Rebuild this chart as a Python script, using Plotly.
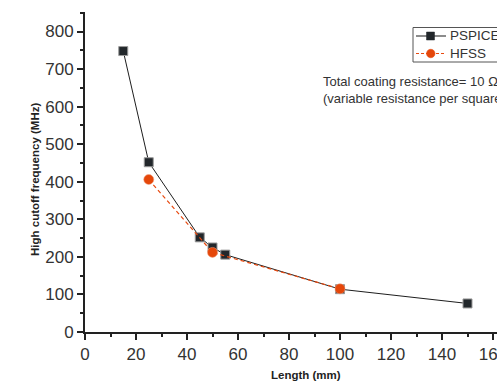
import plotly.graph_objects as go

# Data
pspice_len = [15, 25, 45, 50, 55, 100, 150]
pspice_freq = [748, 452, 252, 225, 206, 114, 76]
hfss_len = [25, 50, 100]
hfss_freq = [406, 212, 115]

x_ticks = [0, 20, 40, 60, 80, 100, 120, 140, 160]
y_ticks = [0, 100, 200, 300, 400, 500, 600, 700, 800]

W, H = 497, 382
ML, MR, MT, MB = 85, 0, 12, 50
pw = W - ML - MR
ph = H - MT - MB

FONT = "Liberation Sans, Arial, sans-serif"
AX = "#222222"
SQ_COLOR = "#22272b"
OR_COLOR = "#e5470a"

fig = go.Figure()
fig.add_trace(go.Scatter(
    x=pspice_len, y=pspice_freq, name="PSPICE", mode="lines+markers",
    line=dict(color="#1e1e1e", width=1),
    marker=dict(symbol="square", size=9, color=SQ_COLOR,
                line=dict(color="#9a9a9a", width=1)),
))
fig.add_trace(go.Scatter(
    x=hfss_len, y=hfss_freq, name="HFSS", mode="lines+markers",
    line=dict(color="#e8490f", width=1.2, dash="4px,3px"),
    marker=dict(symbol="circle", size=10, color=OR_COLOR,
                line=dict(color="#f0a080", width=0.5)),
))

axis_common = dict(
    showline=True, linecolor=AX, linewidth=2,
    ticks="outside", ticklen=6, tickwidth=2, tickcolor=AX,
    showgrid=False, zeroline=False, ticklabeloverflow="allow",
    tickfont=dict(family=FONT, size=17, color="#333333"),
)
fig.update_xaxes(range=[0, pw / 2.55], tickvals=x_ticks,
                 minor=dict(ticks="outside", ticklen=3, tickwidth=2,
                            tickcolor=AX, dtick=10, tick0=0),
                 **axis_common)
fig.update_yaxes(range=[0, 852], tickvals=y_ticks,
                 minor=dict(ticks="outside", ticklen=3, tickwidth=2,
                            tickcolor=AX, dtick=50, tick0=0),
                 **axis_common)

def px_x(px):
    return (px - ML) / pw

def px_y(py):
    return (H - MB - py) / ph

fig.add_annotation(
    text="<b>Length (mm)</b>", xref="paper", yref="paper",
    x=px_x(306), y=px_y(375), xanchor="center", yanchor="middle",
    showarrow=False,
    font=dict(family=FONT, size=11.5, color="#222222"),
)
fig.add_annotation(
    text="<b>High cutoff frequency (MHz)</b>", xref="paper", yref="paper",
    x=px_x(35), y=px_y(180), xanchor="center", yanchor="middle",
    showarrow=False, textangle=-90,
    font=dict(family=FONT, size=11.5, color="#222222"),
)
fig.add_annotation(
    text="Total coating resistance= 10 Ω<br>(variable resistance per square)",
    xref="paper", yref="paper", x=px_x(321), y=px_y(72),
    xanchor="left", yanchor="top", align="left", showarrow=False,
    font=dict(family=FONT, size=13, color="#333333"),
)

# Manual legend (box, sample lines, symbols, labels)
legend_names = ["PSPICE", "HFSS"]
shapes = [dict(type="rect", xref="paper", yref="paper",
               x0=px_x(413), x1=px_x(520), y0=px_y(62), y1=px_y(27.5),
               line=dict(color="#555555", width=1), fillcolor="white",
               layer="above")]
rows = [36, 53.5]
shapes.append(dict(type="line", xref="paper", yref="paper",
                   x0=px_x(416), x1=px_x(446), y0=px_y(rows[0]), y1=px_y(rows[0]),
                   line=dict(color="#666666", width=1.5), layer="above"))
shapes.append(dict(type="rect", xref="paper", yref="paper",
                   x0=px_x(426.5), x1=px_x(434.5), y0=px_y(rows[0] + 4), y1=px_y(rows[0] - 4),
                   line=dict(color=SQ_COLOR, width=0.5), fillcolor=SQ_COLOR, layer="above"))
shapes.append(dict(type="line", xref="paper", yref="paper",
                   x0=px_x(416), x1=px_x(446), y0=px_y(rows[1]), y1=px_y(rows[1]),
                   line=dict(color="#e8490f", width=1.2, dash="3px,2px"), layer="above"))
shapes.append(dict(type="circle", xref="paper", yref="paper",
                   x0=px_x(426.5), x1=px_x(435), y0=px_y(rows[1] + 4.25), y1=px_y(rows[1] - 4.25),
                   line=dict(color=OR_COLOR, width=0.5), fillcolor=OR_COLOR, layer="above"))
for name, ry in zip(legend_names, rows):
    fig.add_annotation(
        text=name, xref="paper", yref="paper", x=px_x(448), y=px_y(ry),
        xanchor="left", yanchor="middle", showarrow=False,
        font=dict(family=FONT, size=13.5, color="#333333"),
    )

fig.update_layout(
    width=W, height=H,
    margin=dict(l=ML, r=MR, t=MT, b=MB, autoexpand=False),
    paper_bgcolor="white", plot_bgcolor="white",
    showlegend=False,
    shapes=shapes,
)

fig.write_html("out.html")
